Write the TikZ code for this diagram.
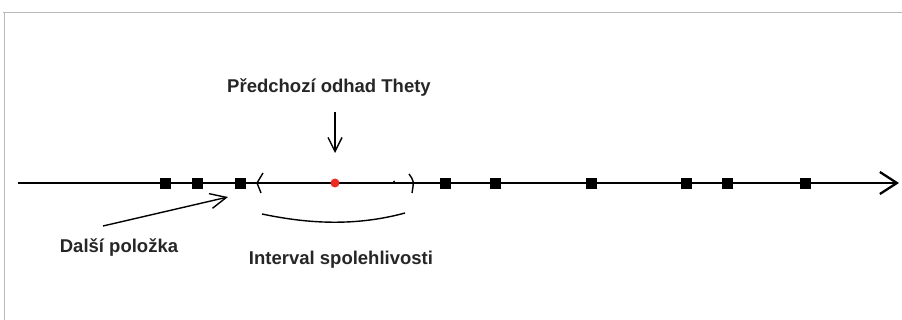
\documentclass[tikz,border=0pt]{standalone}
\usepackage{fontspec}
\setmainfont{Liberation Sans}
\usetikzlibrary{arrows.meta}
\definecolor{dotred}{RGB}{235,45,35}
\definecolor{framegray}{RGB}{185,185,185}
\tikzset{
  pt/.style={fill=black, minimum size=11pt, inner sep=0pt, outer sep=0pt},
  lbl/.style={font=\fontsize{18.5}{21}\selectfont\bfseries, text=black!85, inner sep=0pt},
  thin line/.style={line width=1.4pt},
}
\begin{document}
\begin{tikzpicture}[x=1pt,y=-1pt]
\useasboundingbox (0,0) rectangle (902,320);
\fill[white] (0,0) rectangle (902,320);
% frame
\draw[framegray, line width=1.2pt] (3,12.5) -- (902,12.5);
\draw[framegray, line width=1.2pt] (4.5,12) -- (4.5,320);
% axis
\coordinate (a0) at (18,183);
\coordinate (a1) at (899,183);
\draw[line width=2.5pt, -{Straight Barb[length=17pt,width=22pt,line width=2.3pt]}] (a0) -- (a1);
% points
\foreach \x [count=\i] in {165,197,240,445,495,591,686,727,805}
  \node[pt] (p\i) at (\x,183.5) {};
% red dot
\node[circle, fill=dotred, minimum size=9pt, inner sep=0pt] (theta) at (335,183) {};
\fill (394,181.5) circle (1pt);
% brackets
\draw[thin line] (263,173) -- (257,183) -- (261,193);
\draw[thin line] (409,174) .. controls (414,181) .. (412,193);
% labels
\node[lbl] (ttl) at (329,88) {Předchozí odhad Thety};
\node[lbl] (dal) at (119,248) {Další položka};
\node[lbl] (int) at (341,260) {Interval spolehlivosti};
% arrows
\coordinate (d0) at (335,112);
\coordinate (d1) at (335,153);
\draw[thin line, -{Straight Barb[length=14pt,width=14pt,line width=1.4pt]}] (d0) -- (d1);
\coordinate (e0) at (103,226);
\coordinate (e1) at (228,197);
\draw[thin line, -{Straight Barb[length=16pt,width=15pt,line width=1.4pt]}] (e0) -- (e1);
% under-brace
\coordinate (b0) at (262,214);
\coordinate (b1) at (405,213);
\draw[thin line] (b0) .. controls (300,222) and (350,228) .. (b1);
\end{tikzpicture}
\end{document}
